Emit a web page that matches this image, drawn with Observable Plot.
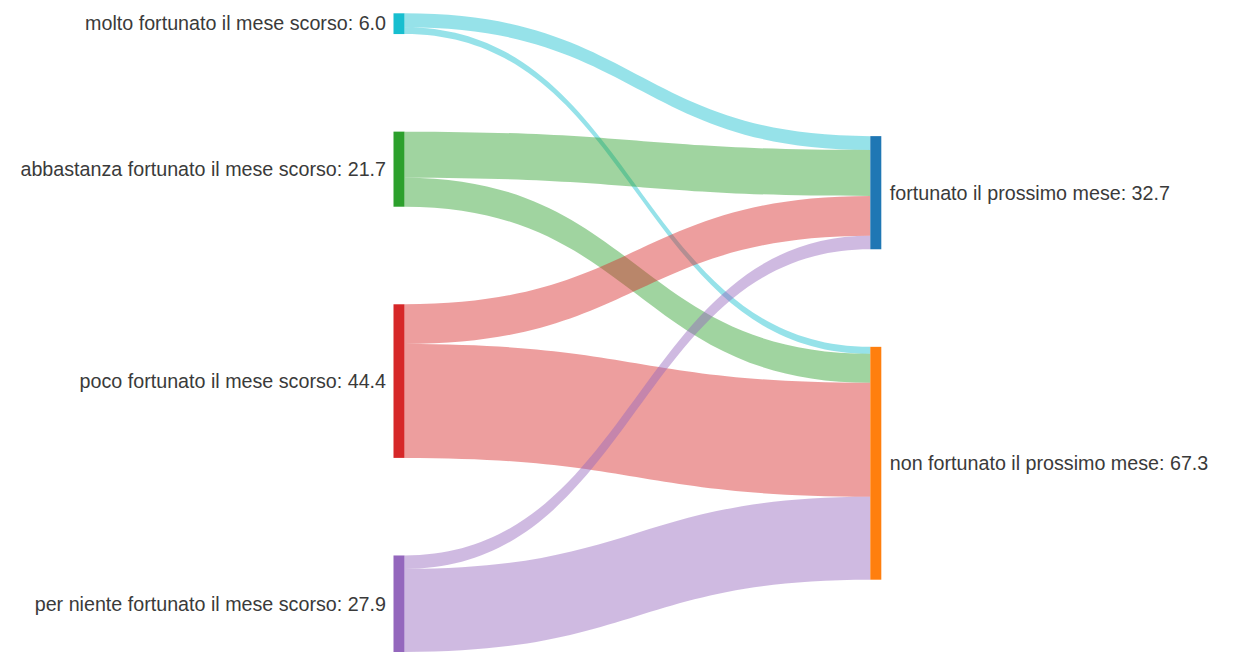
<!DOCTYPE html>
<html>
<head>
<meta charset="utf-8">
<script src="https://cdn.jsdelivr.net/npm/d3@7"></script>
<script src="https://cdn.jsdelivr.net/npm/@observablehq/plot@0.6"></script>
<style>
  html, body { margin: 0; padding: 0; background: #fff; }
  #chart { width: 1234px; height: 655px; }
</style>
</head>
<body>
<div id="chart"></div>
<script>
// ---- data ----
const sources = [
  "molto fortunato il mese scorso",
  "abbastanza fortunato il mese scorso",
  "poco fortunato il mese scorso",
  "per niente fortunato il mese scorso"
];
const targets = ["fortunato il prossimo mese", "non fortunato il prossimo mese"];
const toFortunato = [4.0, 13.3, 11.5, 3.9];
const toNonFortunato = [2.0, 8.4, 32.9, 24.0];
const sourceColors = ["#17becf", "#2ca02c", "#d62728", "#9467bd"];
const targetColors = ["#1f77b4", "#ff7f0e"];

// ---- layout (value units) ----
const nodeGap = 28.2;
const rightOffset = 35.5;
const nodeWidthPx = 11;
const xLeftPx = 393.5, xRightPx = 881.3;
const nodeW = nodeWidthPx / (xRightPx - xLeftPx);

const flows = [toFortunato, toNonFortunato]; // flows[t][s]
const nodes = [];
let acc = 0;
sources.forEach((name, s) => {
  const v = flows.reduce((a, f) => a + f[s], 0);
  nodes.push({name, side: "left", value: v, y0: acc, y1: acc + v, color: sourceColors[s]});
  acc += v + nodeGap;
});
const leftExtent = acc - nodeGap;
acc = rightOffset;
targets.forEach((name, t) => {
  const v = d3.sum(flows[t]);
  nodes.push({name, side: "right", value: v, y0: acc, y1: acc + v, color: targetColors[t]});
  acc += v + nodeGap;
});

const linkPts = [];
const srcOff = sources.map((_, s) => nodes[s].y0);
const tgtOff = targets.map((_, t) => nodes[sources.length + t].y0);
sources.forEach((_, s) => {
  targets.forEach((_, t) => {
    const v = flows[t][s];
    const id = s + "-" + t;
    linkPts.push({id, x: nodeW, y1: srcOff[s], y2: srcOff[s] + v, color: sourceColors[s]});
    linkPts.push({id, x: 1 - nodeW, y1: tgtOff[t], y2: tgtOff[t] + v, color: sourceColors[s]});
    srcOff[s] += v;
    tgtOff[t] += v;
  });
});

const font = "'Liberation Sans', Arial, sans-serif";
const leftNodes = nodes.filter(d => d.side === "left");
const rightNodes = nodes.filter(d => d.side === "right");
const label = d => `${d.name}: ${d.value.toFixed(1)}`;
const mid = d => (d.y0 + d.y1) / 2;

const chart = Plot.plot({
  width: 1234,
  height: 655,
  margin: 0,
  x: {domain: [0, 1], range: [xLeftPx, xRightPx], axis: null},
  y: {domain: [0, leftExtent], range: [13.3, 652], axis: null},
  color: {type: "identity"},
  style: {background: "#fff", fontFamily: font},
  marks: [
    Plot.areaY(linkPts, {x: "x", y1: "y1", y2: "y2", z: "id", fill: "color", fillOpacity: 0.45, curve: "bump-x"}),
    Plot.rect(nodes, {
      x1: d => d.side === "left" ? 0 : 1 - nodeW,
      x2: d => d.side === "left" ? nodeW : 1,
      y1: "y0", y2: "y1", fill: "color"
    }),
    Plot.text(leftNodes, {
      x: () => 0, y: mid, text: label, textAnchor: "end", dx: -8,
      fontSize: 19.7, fontFamily: font, fill: "#3a3a3a"
    }),
    Plot.text(rightNodes, {
      x: () => 1, y: mid, text: label, textAnchor: "start", dx: 8,
      fontSize: 19.7, fontFamily: font, fill: "#3a3a3a"
    })
  ]
});
document.getElementById("chart").appendChild(chart);
</script>
</body>
</html>
